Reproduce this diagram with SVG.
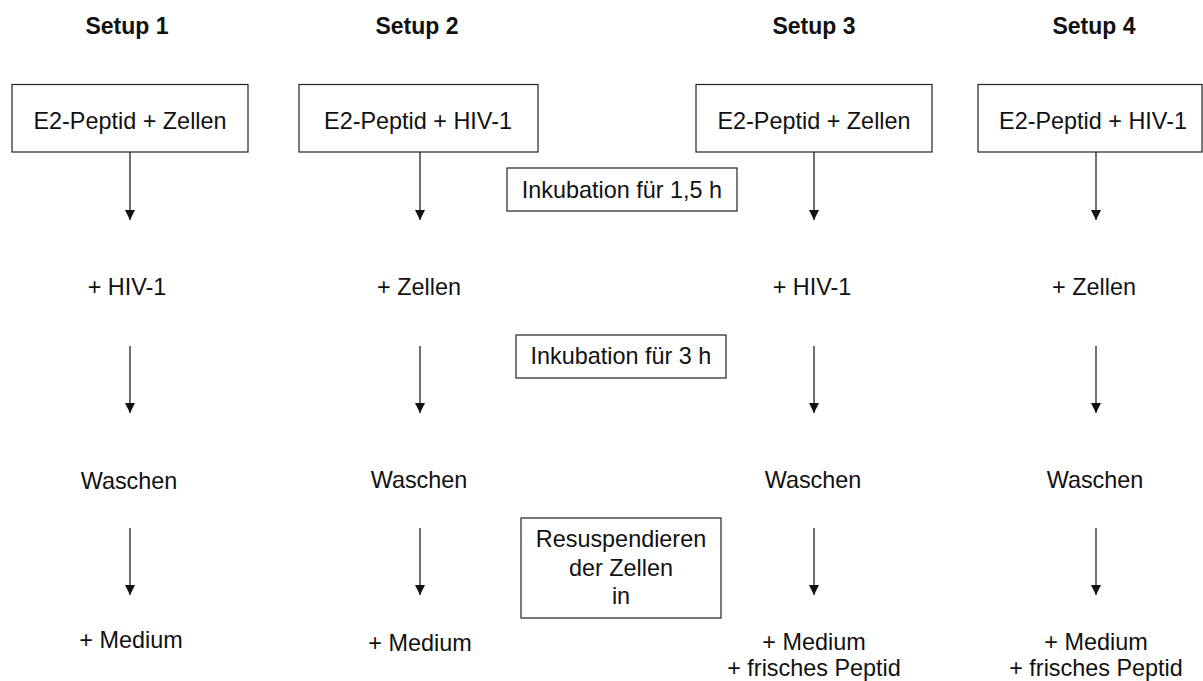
<svg xmlns="http://www.w3.org/2000/svg" width="1203" height="681" viewBox="0 0 1203 681">
<style>
.t{font-family:"Liberation Sans",Arial,sans-serif;font-size:23.4px;fill:#111;text-anchor:middle}
.h{font-family:"Liberation Sans",Arial,sans-serif;font-size:23px;font-weight:bold;fill:#111;text-anchor:middle}
.b{fill:#fff;stroke:#222;stroke-width:1.2}
.c{stroke:#111;stroke-width:1.2;fill:none;marker-end:url(#ah)}
</style>
<defs>
<marker id="ah" markerUnits="userSpaceOnUse" markerWidth="10" markerHeight="10" refX="10" refY="5" orient="auto" viewBox="0 0 10 10">
<path d="M0,0 L10,5 L0,10 z" fill="#111"/>
</marker>
</defs>
<rect width="1203" height="681" fill="#fff"/>
<g id="headers">
<text class="h" x="127" y="34">Setup 1</text>
<text class="h" x="417" y="34">Setup 2</text>
<text class="h" x="814" y="34">Setup 3</text>
<text class="h" x="1094" y="34">Setup 4</text>
</g>
<g id="s1box"><rect class="b" x="12" y="84.5" width="236" height="67.5"/><text class="t" x="130" y="129">E2-Peptid + Zellen</text></g>
<g id="s2box"><rect class="b" x="299" y="84.5" width="239" height="67.5"/><text class="t" x="418" y="129">E2-Peptid + HIV-1</text></g>
<g id="s3box"><rect class="b" x="696" y="84.5" width="236" height="67.5"/><text class="t" x="814" y="129">E2-Peptid + Zellen</text></g>
<g id="s4box"><rect class="b" x="978" y="84.5" width="224" height="67.5"/><text class="t" x="1093" y="129">E2-Peptid + HIV-1</text></g>
<g id="inc1"><rect class="b" x="507" y="168" width="230" height="43"/><text class="t" x="622" y="198">Inkubation für 1,5 h</text></g>
<g id="inc2"><rect class="b" x="516" y="335" width="210" height="43"/><text class="t" x="621" y="364">Inkubation für 3 h</text></g>
<g id="resus"><rect class="b" x="521" y="518" width="200" height="100"/>
<text class="t" x="621" y="547">Resuspendieren</text>
<text class="t" x="621" y="576">der Zellen</text>
<text class="t" x="621" y="604">in</text></g>
<g id="s1add"><text class="t" x="127" y="295">+ HIV-1</text></g>
<g id="s2add"><text class="t" x="419" y="295">+ Zellen</text></g>
<g id="s3add"><text class="t" x="812" y="295">+ HIV-1</text></g>
<g id="s4add"><text class="t" x="1094" y="295">+ Zellen</text></g>
<g id="s1wash"><text class="t" x="129" y="489">Waschen</text></g>
<g id="s2wash"><text class="t" x="419" y="488">Waschen</text></g>
<g id="s3wash"><text class="t" x="813" y="488">Waschen</text></g>
<g id="s4wash"><text class="t" x="1095" y="488">Waschen</text></g>
<g id="s1med"><text class="t" x="131" y="648">+ Medium</text></g>
<g id="s2med"><text class="t" x="420" y="651">+ Medium</text></g>
<g id="s3med"><text class="t" x="814" y="650">+ Medium</text><text class="t" x="814" y="676">+ frisches Peptid</text></g>
<g id="s4med"><text class="t" x="1096" y="650">+ Medium</text><text class="t" x="1096" y="676">+ frisches Peptid</text></g>
<g id="connectors">
<line class="c" x1="130" y1="152" x2="130" y2="220"/>
<line class="c" x1="420" y1="152" x2="420" y2="220"/>
<line class="c" x1="814" y1="152" x2="814" y2="220"/>
<line class="c" x1="1096" y1="152" x2="1096" y2="220"/>
<line class="c" x1="130" y1="346" x2="130" y2="413"/>
<line class="c" x1="420" y1="346" x2="420" y2="413"/>
<line class="c" x1="814" y1="346" x2="814" y2="413"/>
<line class="c" x1="1096" y1="346" x2="1096" y2="413"/>
<line class="c" x1="130" y1="528" x2="130" y2="595"/>
<line class="c" x1="420" y1="528" x2="420" y2="595"/>
<line class="c" x1="814" y1="528" x2="814" y2="595"/>
<line class="c" x1="1096" y1="528" x2="1096" y2="595"/>
</g>
</svg>
